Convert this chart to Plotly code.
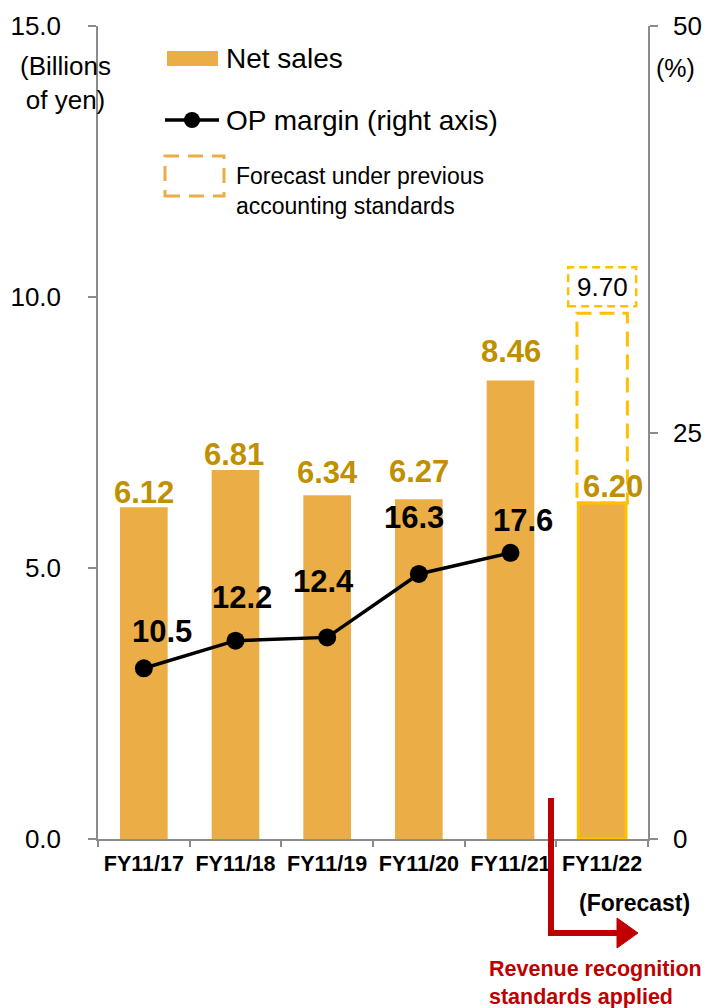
import plotly.graph_objects as go

# ---- data ----
categories = ["FY11/17", "FY11/18", "FY11/19", "FY11/20", "FY11/21", "FY11/22"]
net_sales = [6.12, 6.81, 6.34, 6.27, 8.46, 6.20]
net_sales_labels = ["6.12", "6.81", "6.34", "6.27", "8.46", "6.20"]
op_categories = ["FY11/17", "FY11/18", "FY11/19", "FY11/20", "FY11/21"]
op_margin = [10.5, 12.2, 12.4, 16.3, 17.6]
op_margin_labels = ["10.5", "12.2", "12.4", "16.3", "17.6"]
forecast_category = "FY11/22"
forecast_prev = 9.70
forecast_prev_label = "9.70"
left_ticks = [0, 5, 10, 15]
left_tick_labels = ["0.0", "5.0", "10.0", "15.0"]
right_ticks = [0, 25, 50]
right_tick_labels = ["0", "25", "50"]

# ---- styles ----
FONT = "Liberation Sans, Arial, sans-serif"
BAR = "#EBAE47"
GOLD = "#BF9000"
YELLOW = "#FFC000"
AXIS = "#8C8C8C"
RED = "#C00000"

bar_label_dy = [15, 15, 23, 28, 29, 16]
bar_label_dx = [0, -2, 0, 0, 0, 11]
op_label_dy = [37, 43, 56, 56, 32]
op_label_dx = [18, 6, -4, -5, 12]

W, H = 706, 1008
L, R, T, B = 98, 58, 26, 169
PW, PH = W - L - R, H - T - B


def px(x):
    return (x - L) / PW


def py(y):
    return (H - B - y) / PH


fig = go.Figure()

line_w = [0] * (len(categories) - 1) + [3]
line_c = [BAR] * (len(categories) - 1) + [YELLOW]
fig.add_trace(go.Bar(
    x=categories, y=net_sales, width=0.52,
    marker=dict(color=BAR, line=dict(color=line_c, width=line_w)),
    hoverinfo="skip", yaxis="y",
))

fig.add_trace(go.Scatter(
    x=op_categories, y=op_margin, mode="lines+markers",
    line=dict(color="black", width=3.5),
    marker=dict(color="black", size=18),
    yaxis="y2", hoverinfo="skip",
))

annotations = []
for c, v, t, dy, dx in zip(categories, net_sales, net_sales_labels, bar_label_dy, bar_label_dx):
    annotations.append(dict(x=c, y=v, xref="x", yref="y", text=t, showarrow=False,
                            xanchor="center", yanchor="middle", yshift=dy, xshift=dx,
                            font=dict(family=FONT, size=31, color=GOLD, weight="bold")))
for c, v, t, dy, dx in zip(op_categories, op_margin, op_margin_labels, op_label_dy, op_label_dx):
    annotations.append(dict(x=c, y=v, xref="x", yref="y2", text=t, showarrow=False,
                            xanchor="center", yanchor="middle", yshift=dy, xshift=dx,
                            font=dict(family=FONT, size=31, color="black", weight="bold")))

shapes = []
# dashed forecast-under-previous-standards outline
fi = categories.index(forecast_category)
shapes.append(dict(type="rect", xref="x", yref="y",
                   x0=fi - 0.275, x1=fi + 0.275,
                   y0=net_sales[fi], y1=forecast_prev,
                   line=dict(color=YELLOW, width=3, dash="15px,8px")))
# value box above
shapes.append(dict(type="rect", xref="x", yref="y",
                   xsizemode="pixel", xanchor=fi, x0=-34, x1=34,
                   ysizemode="pixel", yanchor=forecast_prev, y0=7, y1=46,
                   fillcolor="white",
                   line=dict(color=YELLOW, width=2.5, dash="8px,5px")))
annotations.append(dict(x=forecast_category, y=forecast_prev, xref="x", yref="y",
                        text=forecast_prev_label, showarrow=False, yshift=26,
                        xanchor="center", yanchor="middle",
                        font=dict(family=FONT, size=26, color="black")))

# legend
shapes.append(dict(type="rect", xref="paper", yref="paper",
                   x0=px(167), x1=px(218), y0=py(66), y1=py(51),
                   fillcolor=BAR, line=dict(width=0)))
annotations.append(dict(x=px(224), y=py(58), xref="paper", yref="paper", text="Net sales",
                        showarrow=False, xanchor="left", yanchor="middle",
                        font=dict(family=FONT, size=28, color="black")))
shapes.append(dict(type="line", xref="paper", yref="paper",
                   x0=px(165), x1=px(219), y0=py(120), y1=py(120),
                   line=dict(color="black", width=3.5)))
shapes.append(dict(type="circle", xref="paper", yref="paper",
                   x0=px(184), x1=px(200), y0=py(128), y1=py(112),
                   fillcolor="black", line=dict(width=0)))
annotations.append(dict(x=px(224), y=py(121), xref="paper", yref="paper",
                        text="OP margin (right axis)",
                        showarrow=False, xanchor="left", yanchor="middle",
                        font=dict(family=FONT, size=28, color="black")))
shapes.append(dict(type="rect", xref="paper", yref="paper",
                   x0=px(165), x1=px(224), y0=py(196), y1=py(156),
                   line=dict(color=BAR, width=3, dash="15px,9px")))
annotations.append(dict(x=px(234), y=py(191), xref="paper", yref="paper",
                        text="Forecast under previous<br>accounting standards",
                        showarrow=False, xanchor="left", yanchor="middle", align="left",
                        font=dict(family=FONT, size=23, color="black")))

# axis titles
annotations.append(dict(x=px(65), y=py(83), xref="paper", yref="paper",
                        text="(Billions<br>of yen)", showarrow=False,
                        xanchor="center", yanchor="middle", align="center",
                        font=dict(family=FONT, size=26, color="black")))
annotations.append(dict(x=px(675), y=py(68), xref="paper", yref="paper",
                        text="(%)", showarrow=False,
                        xanchor="center", yanchor="middle",
                        font=dict(family=FONT, size=25, color="black")))
annotations.append(dict(x=px(692), y=py(903), xref="paper", yref="paper",
                        text="(Forecast)", showarrow=False,
                        xanchor="right", yanchor="middle",
                        font=dict(family=FONT, size=23, color="black", weight="bold")))
annotations.append(dict(x=px(487), y=py(983), xref="paper", yref="paper",
                        text="Revenue recognition<br>standards applied", showarrow=False,
                        xanchor="left", yanchor="middle", align="left",
                        font=dict(family=FONT, size=21.5, color=RED, weight="bold")))

# red arrow
shapes.append(dict(type="path", xref="paper", yref="paper",
                   path=f"M {px(551)},{py(798)} L {px(551)},{py(933)} L {px(620)},{py(933)}",
                   line=dict(color=RED, width=6)))
shapes.append(dict(type="path", xref="paper", yref="paper",
                   path=f"M {px(617)},{py(918)} L {px(638)},{py(933)} L {px(617)},{py(948)} Z",
                   fillcolor=RED, line=dict(color=RED, width=1)))

fig.update_layout(
    width=W, height=H, autosize=False,
    margin=dict(l=L, r=R, t=T, b=B, pad=0),
    paper_bgcolor="white", plot_bgcolor="white",
    showlegend=False,
    font=dict(family=FONT, color="black"),
    xaxis=dict(type="category", categoryorder="array", categoryarray=categories,
               range=[-0.5, len(categories) - 0.5], automargin=False,
               showline=True, linecolor=AXIS, linewidth=1.5,
               ticks="outside", tickson="boundaries", ticklen=6, tickcolor=AXIS, tickwidth=1.5,
               ticklabelstandoff=4,
               showgrid=False, zeroline=False,
               tickfont=dict(family=FONT, size=21.5, color="black", weight="bold")),
    yaxis=dict(range=[0, 15], tickvals=left_ticks, ticktext=left_tick_labels,
               automargin=False,
               showline=True, linecolor=AXIS, linewidth=1.5,
               ticks="outside", ticklen=8, tickcolor=AXIS, tickwidth=1.5,
               ticklabelstandoff=22,
               showgrid=False, zeroline=False,
               tickfont=dict(family=FONT, size=26, color="black")),
    yaxis2=dict(range=[0, 50], tickvals=right_ticks, ticktext=right_tick_labels,
                overlaying="y", side="right", automargin=False,
                showline=True, linecolor=AXIS, linewidth=1.5,
                ticks="outside", ticklen=8, tickcolor=AXIS, tickwidth=1.5,
                ticklabelstandoff=10,
                showgrid=False, zeroline=False,
                tickfont=dict(family=FONT, size=26, color="black")),
    annotations=annotations,
    shapes=shapes,
)

fig.write_html("out.html")
